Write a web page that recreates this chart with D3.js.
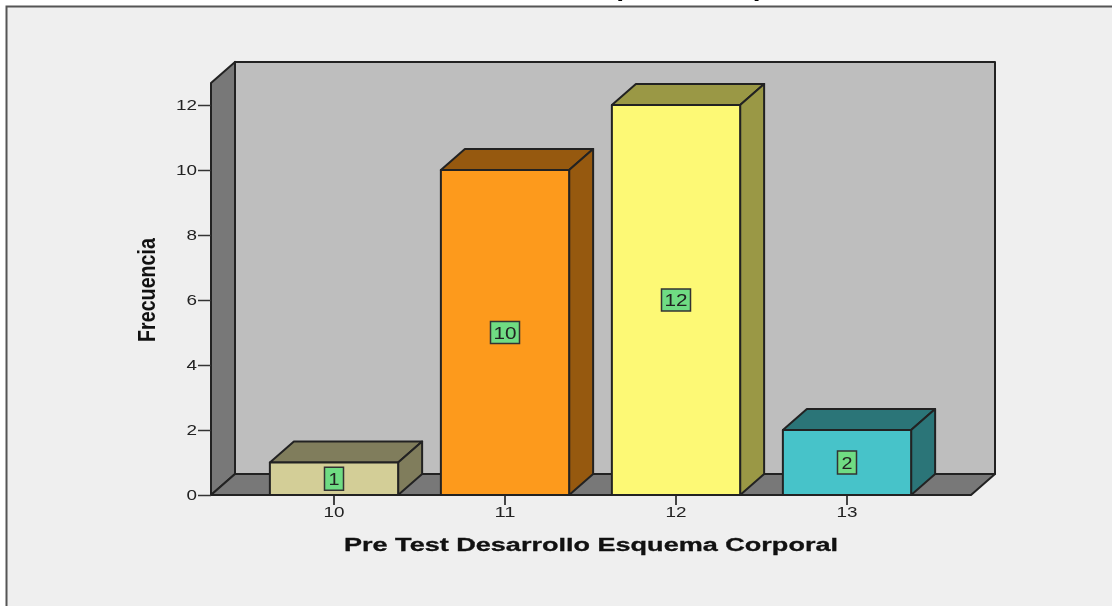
<!DOCTYPE html>
<html>
<head>
<meta charset="utf-8">
<script src="https://cdn.jsdelivr.net/npm/d3@7/dist/d3.min.js"></script>
<style>
html, body { margin: 0; padding: 0; background: #fff; overflow: hidden; }
svg { display: block; filter: blur(0.5px); }
text { font-family: "Liberation Sans", Arial, sans-serif; }
</style>
</head>
<body>
<div id="chart"></div>
<script>
const categories = ["10", "11", "12", "13"];
const frequencies = [1, 10, 12, 2];
const yTicks = [0, 2, 4, 6, 8, 10, 12];
const titleText = "Pre Test Desarrollo Esquema Corporal";
const xLabel = "Pre Test Desarrollo Esquema Corporal";
const yLabel = "Frecuencia";
const frontColors = ["#d3ce97", "#fd9a1c", "#fdf975", "#47c3c9"];
const sideColors = ["#807d5c", "#96590f", "#9a9845", "#2b7578"];

const width = 1112, height = 606;
const plot = { left: 211, right: 971, bottom: 495, yMax: 12.68 };
const depth = { x: 24, y: -21 };
const ink = "#222";

const svg = d3.select("#chart").append("svg")
    .attr("width", width).attr("height", height);

const x = d3.scaleBand().domain(categories).range([248.5, 932.5])
    .paddingInner(0.25).paddingOuter(0.125);
const y = d3.scaleLinear().domain([0, 12]).range([plot.bottom, 105]);

const poly = (pts, fill) => svg.append("polygon")
    .attr("points", pts.map(p => p.join(",")).join(" "))
    .attr("fill", fill).attr("stroke", ink).attr("stroke-width", 2)
    .attr("stroke-linejoin", "round");

// frame, the page is cropped so only top and left edges show
svg.append("rect").attr("x", 6.5).attr("y", 6.5)
    .attr("width", width + 20).attr("height", height + 20)
    .attr("fill", "#efefef").attr("stroke", "#555").attr("stroke-width", 2);

// title sits above the crop, only its descenders are left
svg.append("text").attr("x", 311).attr("y", -3)
    .attr("font-size", 18).attr("font-weight", "bold").attr("fill", "#000")
    .attr("textLength", 510).attr("lengthAdjust", "spacingAndGlyphs")
    .text(titleText);

// 3D box: back wall, left wall, floor
const wallTop = y(plot.yMax);
const bx = plot.left + depth.x, bx2 = plot.right + depth.x;
const by = plot.bottom + depth.y, tb = wallTop + depth.y;
poly([[bx, tb], [bx2, tb], [bx2, by], [bx, by]], "#bebebe");
poly([[plot.left, wallTop], [bx, tb], [bx, by], [plot.left, plot.bottom]], "#787878");
poly([[plot.left, plot.bottom], [plot.right, plot.bottom], [bx2, by], [bx, by]], "#787878");

// axes
const yAxis = svg.append("g").attr("transform", `translate(${plot.left},0)`)
    .call(d3.axisLeft(y).tickValues(yTicks).tickSize(13).tickPadding(1));
yAxis.select(".domain").remove();
yAxis.selectAll("line").attr("stroke", "#333").attr("stroke-width", 1.5);
yAxis.selectAll("text").attr("font-size", 15).attr("fill", "#222")
    .attr("textLength", d => d > 9 ? 21 : 10.5)
    .attr("lengthAdjust", "spacingAndGlyphs");

const xAxis = svg.append("g").attr("transform", `translate(0,${plot.bottom})`)
    .call(d3.axisBottom(x).tickSize(10).tickPadding(1));
xAxis.select(".domain").remove();
xAxis.selectAll("line").attr("stroke", "#444").attr("stroke-width", 2);
xAxis.selectAll("text").attr("font-size", 15).attr("fill", "#222")
    .attr("textLength", 21)
    .attr("lengthAdjust", "spacingAndGlyphs");

// bars
categories.forEach((c, i) => {
    const v = frequencies[i];
    const x0 = x(c), x1 = x0 + x.bandwidth();
    const y1 = y(v), y0 = y(0);
    poly([[x0, y1], [x1, y1], [x1 + depth.x, y1 + depth.y], [x0 + depth.x, y1 + depth.y]], sideColors[i]);
    poly([[x1, y0], [x1, y1], [x1 + depth.x, y1 + depth.y], [x1 + depth.x, y0 + depth.y]], sideColors[i]);
    poly([[x0, y1], [x1, y1], [x1, y0], [x0, y0]], frontColors[i]);

    const cx = x0 + x.bandwidth() / 2, cy = y(v / 2);
    const w = String(v).length > 1 ? 29 : 19, h = String(v).length > 1 ? 22 : 23;
    svg.append("rect").attr("x", cx - w / 2).attr("y", cy - h / 2)
        .attr("width", w).attr("height", h)
        .attr("fill", "#6fdc83").attr("stroke", "#333").attr("stroke-width", 1.5);
    svg.append("text").attr("x", cx).attr("y", cy + 6)
        .attr("text-anchor", "middle").attr("font-size", 16).attr("fill", "#222")
        .attr("textLength", String(v).length > 1 ? 23 : 11)
        .attr("lengthAdjust", "spacingAndGlyphs")
        .text(v);
});

// axis titles
svg.append("text").attr("x", 344).attr("y", 551)
    .attr("font-size", 18).attr("font-weight", "bold").attr("fill", "#111")
    .attr("stroke", "#111").attr("stroke-width", 0.3)
    .attr("textLength", 494).attr("lengthAdjust", "spacingAndGlyphs")
    .text(xLabel);

svg.append("text").attr("transform", "translate(155,342) rotate(-90)")
    .attr("font-size", 24).attr("font-weight", "bold").attr("fill", "#111")
    .attr("textLength", 104).attr("lengthAdjust", "spacingAndGlyphs")
    .text(yLabel);
</script>
</body>
</html>
